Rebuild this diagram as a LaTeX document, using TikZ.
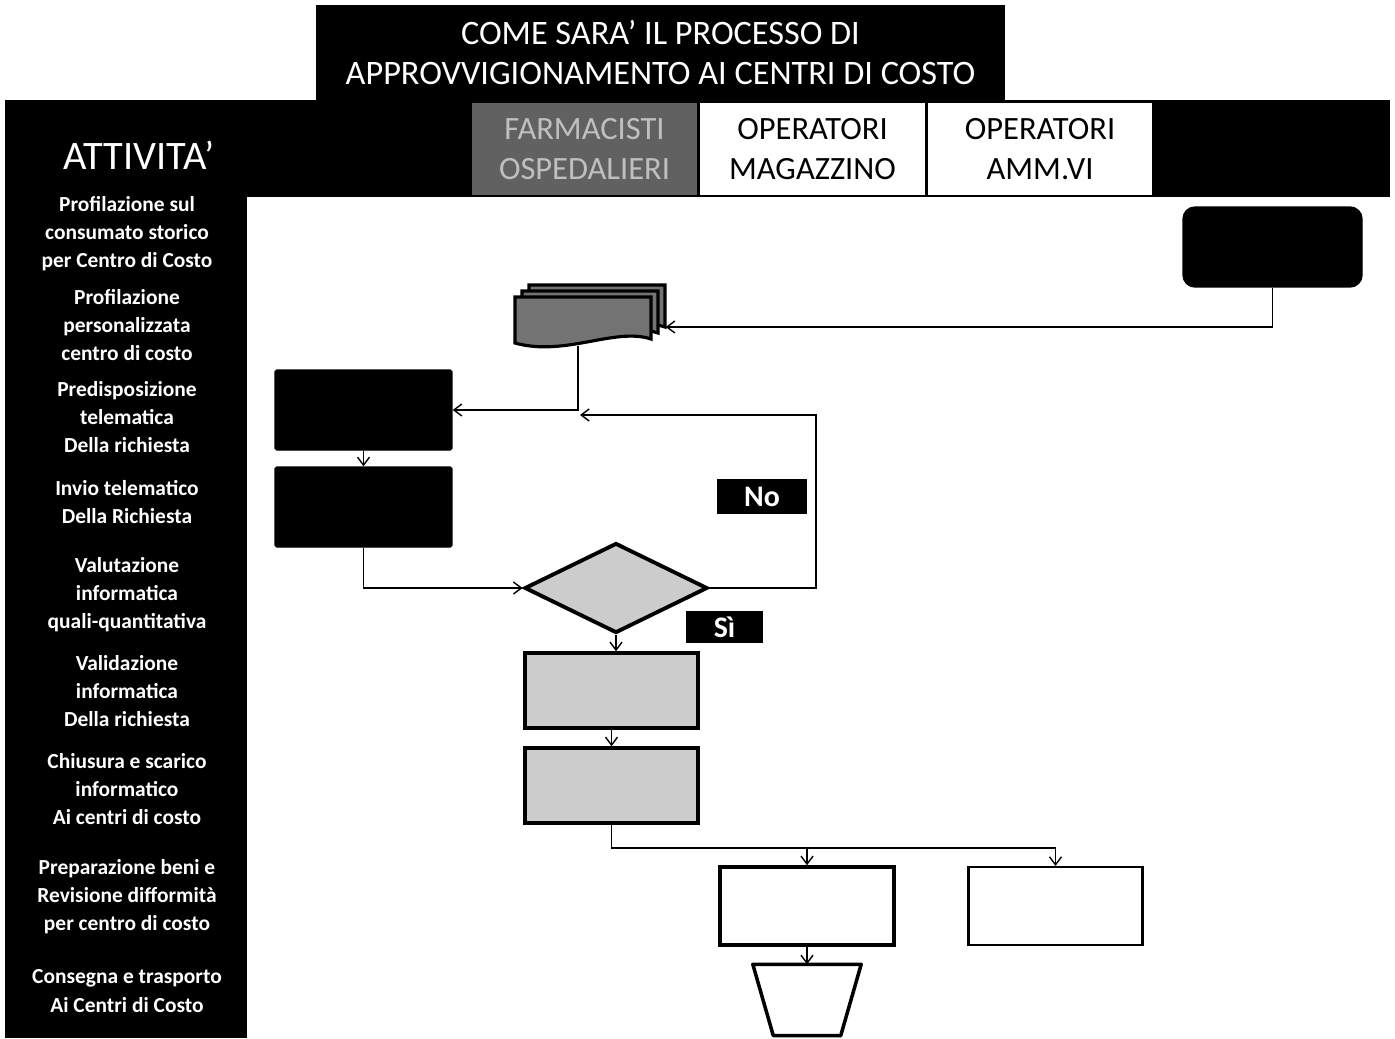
\documentclass[tikz,border=0pt]{standalone}
\usepackage{fontspec}
\setmainfont{Carlito}
\usetikzlibrary{shapes.geometric,arrows.meta,positioning}

\begin{document}
\begin{tikzpicture}[x=0.02cm,y=-0.02cm,>={Straight Barb[length=1.6mm,width=2.4mm]},line width=0.8pt,
  band/.style={fill=black},
  lane/.style={inner sep=0pt,minimum width=4.5cm,minimum height=1.84cm,align=center,font=\fontsize{18.5}{23}\selectfont},
  act/.style={text=white,align=center,font=\bfseries\fontsize{12.2}{16}\selectfont},
  blk/.style={fill=black,draw=black,rounded corners=1pt,minimum width=3.54cm,minimum height=1.6cm},
  greybox/.style={fill=gray!40,draw=black,line width=2pt,minimum width=3.46cm,minimum height=1.5cm},
  wbox/.style={fill=white,draw=black,line width=2pt,minimum width=3.48cm,minimum height=1.56cm},
  flag/.style={fill=black,text=white,inner sep=0pt,font=\bfseries\fontsize{17}{20}\selectfont},
  docpage/.style={fill=black!55,draw=black,line width=1.8pt}]
\useasboundingbox[fill=white] (0,0) rectangle (1395,1038);

% header and lanes
\node[fill=black,text=white,minimum width=13.78cm,minimum height=1.9cm,align=center,
  font=\fontsize{19.5}{22.5}\selectfont] (title) at (660.5,52.5)
  {COME SARA’ IL PROCESSO DI\\APPROVVIGIONAMENTO AI CENTRI DI COSTO};
\fill[band] (5,100) rectangle (1390,197);
\fill[band] (5,100) rectangle (247,1038);
\node[lane,fill=black!62,text=black!25] (farm) at (584.5,149) {FARMACISTI\\OSPEDALIERI};
\node[lane,fill=white] (mag) at (812.5,149) {OPERATORI\\MAGAZZINO};
\node[lane,fill=white,minimum width=4.48cm] (amm) at (1040,149) {OPERATORI\\AMM.VI};

% activities
\node[text=white,font=\fontsize{23}{26}\selectfont] (attiv) at (139,155) {ATTIVITA’};
\node[act] (a1) at (127,234) {Profilazione sul\\consumato storico\\per Centro di Costo};
\node[act] (a2) at (127,325) {Profilazione\\personalizzata\\centro di costo};
\node[act] (a3) at (127,417) {Predisposizione\\telematica\\Della richiesta};
\node[act] (a4) at (127,502) {Invio telematico\\Della Richiesta};
\node[act] (a5) at (127,595) {Valutazione\\informatica\\quali-quantitativa};
\node[act] (a6) at (127,691) {Validazione\\informatica\\Della richiesta};
\node[act] (a7) at (127,789) {Chiusura e scarico\\informatico\\Ai centri di costo};
\node[act] (a8) at (127,897) {Preparazione beni e\\Revisione difformità\\per centro di costo};
\node[act] (a9) at (127,991) {Consegna e trasporto\\Ai Centri di Costo};

% flow
\node[blk,rounded corners=2.4mm,minimum width=3.58cm] (start) at (1272.5,247) {};
\filldraw[docpage,shift={(529,285)}] (0,0) -- (136,0) -- (136,42) .. controls (100,30) and (50,60) .. (0,46) -- cycle;
\filldraw[docpage,shift={(522,291)}] (0,0) -- (136,0) -- (136,42) .. controls (100,30) and (50,60) .. (0,46) -- cycle;
\filldraw[docpage,shift={(515,297)}] (0,0) -- (136,0) -- (136,42) .. controls (100,30) and (50,60) .. (0,46) -- cycle;
\node[minimum width=3cm,minimum height=0.88cm,inner sep=0pt] (doc) at (590,327) {};
\coordinate (docout) at (578,346);
\node[blk] (pred) at (363.5,410) {};
\node[blk] (invio) at (363.5,507) {};
\node[diamond,fill=gray!40,draw=black,line width=2.2pt,minimum width=3.66cm,minimum height=1.8cm,inner sep=0pt] (dec) at (616,588) {};
\node[flag,minimum width=1.8cm,minimum height=0.7cm] (no) at (762,496.5) {No};
\node[flag,minimum width=1.54cm,minimum height=0.64cm] (si) at (724.5,627) {Sì};
\coordinate (back) at (816,415);
\coordinate (backend) at (580,415);
\node[greybox] (valid) at (611.5,690.5) {};
\node[greybox] (chius) at (611.5,785.5) {};
\coordinate (fork) at (1055.5,848);
\node[wbox] (prep) at (807,906) {};
\node[wbox,line width=1.2pt] (amv) at (1055.5,906) {};
\node[minimum width=2.14cm,minimum height=1.4cm,inner sep=0pt] (cons) at (807,1000) {};
\draw[line width=2pt,line join=round] (cons.north west) -- (cons.north east)
  -- ([xshift=-0.41cm]cons.south east) -- ([xshift=0.41cm]cons.south west) -- cycle;

\draw[->] (start.south) |- (doc.east);
\draw[->] (docout) |- (pred.east);
\draw[->] (pred) -- (invio);
\draw[->] (invio.south) |- (dec.west);
\draw[->] (dec.east) -| (back) -- (backend);
\draw[->] (dec.south) -- (dec.south |- valid.north);
\draw[->] (valid) -- (chius);
\draw[->] (chius.south) |- (fork) -- (amv.north);
\draw[->] (prep.north |- fork) -- (prep.north);
\draw[->] (prep) -- (cons);
\end{tikzpicture}
\end{document}
